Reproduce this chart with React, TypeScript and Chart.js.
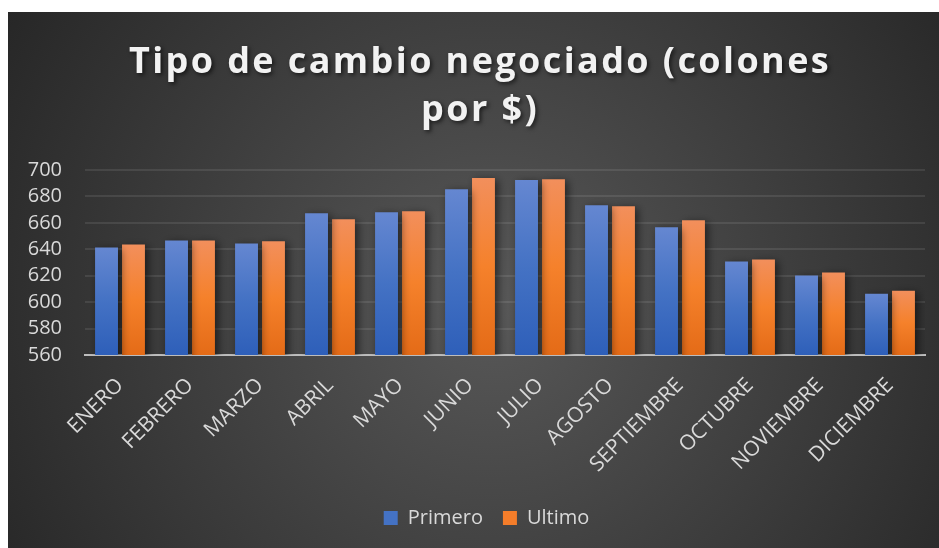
import React, { useEffect, useRef } from "react";
import { Chart, registerables } from "chart.js";

Chart.register(...registerables);

const TITLE_LINES = ["Tipo de cambio negociado (colones", "por $)"];
const MONTHS = [
  "ENERO", "FEBRERO", "MARZO", "ABRIL", "MAYO", "JUNIO",
  "JULIO", "AGOSTO", "SEPTIEMBRE", "OCTUBRE", "NOVIEMBRE", "DICIEMBRE",
];
const PRIMERO = [641.4, 646.7, 644.4, 667.3, 668, 685.5, 692.4, 673.4, 656.6, 630.7, 620.1, 606.4];
const ULTIMO = [643.7, 646.7, 646, 662.7, 668.8, 693.9, 693, 672.6, 661.9, 632.3, 622.4, 608.7];
const Y_MIN = 560;
const Y_MAX = 700;
const Y_STEP = 20;

const FONT = "'Open Sans', 'Noto Sans', sans-serif";

function barGradient(stops: string[]) {
  return (ctx: any) => {
    const chart = ctx.chart;
    if (!chart.chartArea || ctx.type !== "data") return stops[1];
    const y = chart.scales.y;
    const top = y.getPixelForValue(ctx.raw);
    const base = y.getPixelForValue(Y_MIN);
    if (!isFinite(top) || !isFinite(base) || top === base) return stops[1];
    const g = chart.ctx.createLinearGradient(0, top, 0, base);
    g.addColorStop(0, stops[0]);
    g.addColorStop(0.5, stops[1]);
    g.addColorStop(1, stops[2]);
    return g;
  };
}

const backgroundPlugin = {
  id: "bgPlugin",
  beforeDraw(chart: any) {
    const { ctx, width, height } = chart;
    ctx.save();
    const cx = width * 0.52;
    const cy = height * 0.55;
    const g = ctx.createRadialGradient(cx, cy, 0, cx, cy, width * 0.62);
    g.addColorStop(0, "#585858");
    g.addColorStop(1, "#262626");
    ctx.fillStyle = g;
    ctx.fillRect(0, 0, width, height);
    ctx.restore();
  },
};

const titlePlugin = {
  id: "titlePlugin",
  afterDraw(chart: any) {
    const { ctx } = chart;
    ctx.save();
    ctx.font = `bold 36px ${FONT}`;
    (ctx as any).letterSpacing = "2.4px";
    ctx.textAlign = "center";
    ctx.textBaseline = "alphabetic";
    ctx.fillStyle = "#f2f2f2";
    ctx.shadowColor = "rgba(0,0,0,0.6)";
    ctx.shadowBlur = 4;
    ctx.shadowOffsetX = 2;
    ctx.shadowOffsetY = 2;
    const cx = 472;
    const baselines = [61, 109];
    TITLE_LINES.forEach((line, i) => ctx.fillText(line, cx, baselines[i]));
    ctx.restore();
  },
};

const shadowPlugin = {
  id: "barShadow",
  beforeDatasetsDraw(chart: any) {
    const ctx = chart.ctx;
    ctx.save();
    ctx.shadowColor = "rgba(0,0,0,0.55)";
    ctx.shadowBlur = 8;
    ctx.shadowOffsetX = 3;
    ctx.shadowOffsetY = 2;
  },
  afterDatasetsDraw(chart: any) {
    chart.ctx.restore();
  },
};

const legendShiftPlugin = {
  id: "legendShift",
  afterLayout(chart: any) {
    const lg = chart.legend;
    if (!lg) return;
    const dx = 20;
    lg.left += dx;
    lg.right += dx;
    if (lg.legendHitBoxes) lg.legendHitBoxes.forEach((h: any) => (h.left += dx));
  },
};

export default function App() {
  const ref = useRef<HTMLCanvasElement | null>(null);

  useEffect(() => {
    if (!ref.current) return;
    const chart = new Chart(ref.current, {
      type: "bar",
      data: {
        labels: MONTHS,
        datasets: [
          {
            label: "Primero",
            data: PRIMERO,
            backgroundColor: barGradient(["#6587d1", "#4472c4", "#2e5fb9"]),
            borderWidth: 0,
            barPercentage: 0.85,
            categoryPercentage: 0.77,
          },
          {
            label: "Ultimo",
            data: ULTIMO,
            backgroundColor: barGradient(["#f28f5c", "#f5812b", "#e46b17"]),
            borderWidth: 0,
            barPercentage: 0.85,
            categoryPercentage: 0.77,
          },
        ],
      },
      options: {
        animation: false,
        responsive: true,
        maintainAspectRatio: false,
        layout: { padding: { top: 158, left: 0, right: 14, bottom: 10 } },
        scales: {
          x: {
            z: 1,
            grid: { display: false },
            border: { display: true, color: "#bdbdbd", width: 2 },
            ticks: {
              color: "#d9d9d9",
              font: { family: FONT, size: 21 },
              minRotation: 45,
              maxRotation: 45,
              padding: 10,
              autoSkip: false,
            },
            afterFit: (s: any) => {
              s.height = 133;
            },
          },
          y: {
            min: Y_MIN,
            max: Y_MAX,
            grid: { color: "rgba(255,255,255,0.09)", lineWidth: 2, drawTicks: false },
            border: { display: false },
            ticks: {
              stepSize: Y_STEP,
              autoSkip: false,
              color: "#d9d9d9",
              font: { family: FONT, size: 20 },
              padding: 23,
            },
            afterFit: (s: any) => {
              s.width = 77;
            },
          },
        },
        plugins: {
          title: { display: false },
          tooltip: { enabled: false },
          legend: {
            position: "bottom",
            labels: {
              color: "#d9d9d9",
              font: { family: FONT, size: 20 },
              boxWidth: 14,
              boxHeight: 14,
              padding: 20,
              generateLabels: (c: any) =>
                c.data.datasets.map((ds: any, i: number) => ({
                  text: ds.label,
                  fillStyle: i === 0 ? "#4472c4" : "#f47d2a",
                  strokeStyle: "transparent",
                  lineWidth: 0,
                  fontColor: "#d9d9d9",
                  datasetIndex: i,
                  hidden: false,
                })),
            },
          },
        },
      },
      plugins: [backgroundPlugin, shadowPlugin, titlePlugin, legendShiftPlugin],
    });
    return () => chart.destroy();
  }, []);

  return (
    <div style={{ position: "absolute", left: 8, top: 12, width: 931, height: 536 }}>
      <canvas ref={ref} />
    </div>
  );
}
